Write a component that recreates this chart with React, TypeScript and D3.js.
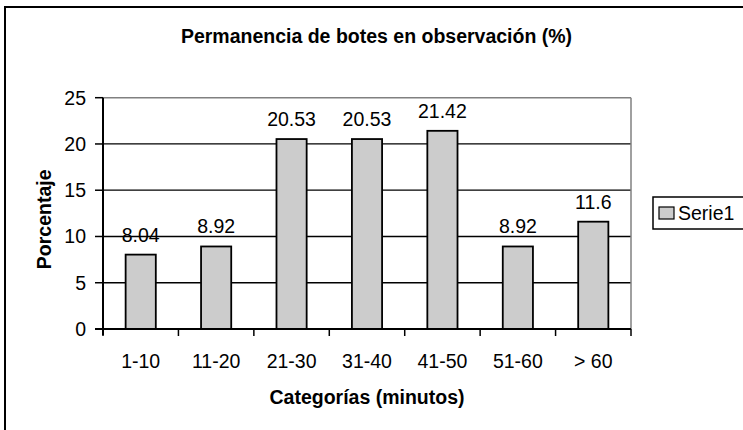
import React from "react";
import * as d3 from "d3";

const categories = ["1-10", "11-20", "21-30", "31-40", "41-50", "51-60", "> 60"];
const values = [8.04, 8.92, 20.53, 20.53, 21.42, 8.92, 11.6];
const valueLabels = ["8.04", "8.92", "20.53", "20.53", "21.42", "8.92", "11.6"];
const yTicks = [0, 5, 10, 15, 20, 25];
const seriesName = "Serie1";
const title = "Permanencia de botes en observación (%)";
const xTitle = "Categorías (minutos)";
const yTitle = "Porcentaje";

const W = 743;
const H = 430;
const plot = { left: 103, right: 631, top: 97.7, bottom: 329 };
const FONT = "'Liberation Sans', Arial, Helvetica, sans-serif";
const BAR_FILL = "#cccccc";

export default function App() {
  const x = d3
    .scaleBand<string>()
    .domain(categories)
    .range([plot.left, plot.right])
    .paddingInner(0)
    .paddingOuter(0);
  const y = d3.scaleLinear().domain([0, 25]).range([plot.bottom, plot.top]);
  const bw = x.bandwidth() / 2.5;
  const boundaries = categories.map((c) => x(c) as number).concat([plot.right]);

  return (
    <svg
      width={W}
      height={H}
      style={{ position: "absolute", left: 0, top: 0, background: "#fff" }}
      fontFamily={FONT}
    >
      <rect x={0} y={0} width={W} height={H} fill="#fff" />
      {/* outer chart border */}
      <rect x={5} y={7} width={W + 10} height={H + 10} fill="none" stroke="#000" strokeWidth={2} />

      {/* title */}
      <text x={376.5} y={43} textAnchor="middle" fontSize={19.5} fontWeight="bold">
        {title}
      </text>

      {/* gridlines */}
      {yTicks
        .filter((t) => t > 0 && t < 25)
        .map((t) => (
          <line key={"g" + t} x1={plot.left} x2={plot.right} y1={y(t)} y2={y(t)} stroke="#000" strokeWidth={1.3} />
        ))}
      {/* plot border top/right gray */}
      <line x1={plot.left} x2={plot.right} y1={y(25)} y2={y(25)} stroke="#808080" strokeWidth={1.5} />
      <line x1={plot.right} x2={plot.right} y1={plot.top} y2={plot.bottom} stroke="#808080" strokeWidth={1.5} />

      {/* bars */}
      {values.map((v, i) => {
        const cx = (x(categories[i]) as number) + x.bandwidth() / 2;
        return (
          <rect
            key={"b" + i}
            x={cx - bw / 2}
            y={y(v)}
            width={bw}
            height={y(0) - y(v)}
            fill={BAR_FILL}
            stroke="#000"
            strokeWidth={1.8}
          />
        );
      })}

      {/* data labels */}
      {values.map((v, i) => {
        const cx = (x(categories[i]) as number) + x.bandwidth() / 2;
        return (
          <text key={"l" + i} x={cx} y={y(v) - 13} textAnchor="middle" fontSize={19.5}>
            {valueLabels[i]}
          </text>
        );
      })}

      {/* y axis */}
      <line x1={plot.left} x2={plot.left} y1={plot.top} y2={plot.bottom + 6} stroke="#000" strokeWidth={2} />
      {yTicks.map((t) => (
        <g key={"yt" + t}>
          <line x1={plot.left - 8} x2={plot.left} y1={y(t)} y2={y(t)} stroke="#000" strokeWidth={1.5} />
          <text x={86} y={y(t) + 7} textAnchor="end" fontSize={19.5}>
            {t}
          </text>
        </g>
      ))}

      {/* x axis */}
      <line x1={plot.left - 8} x2={plot.right} y1={plot.bottom} y2={plot.bottom} stroke="#000" strokeWidth={2} />
      {boundaries.map((b, i) => (
        <line key={"xt" + i} x1={b} x2={b} y1={plot.bottom} y2={plot.bottom + 7} stroke="#000" strokeWidth={1.5} />
      ))}
      {categories.map((c) => (
        <text key={"xl" + c} x={(x(c) as number) + x.bandwidth() / 2} y={368} textAnchor="middle" fontSize={19.5}>
          {c}
        </text>
      ))}

      {/* axis titles */}
      <text x={367} y={404} textAnchor="middle" fontSize={19.5} fontWeight="bold">
        {xTitle}
      </text>
      <text
        transform={`translate(51,${(plot.top + plot.bottom) / 2 + 6}) rotate(-90)`}
        textAnchor="middle"
        fontSize={19.5}
        fontWeight="bold"
      >
        {yTitle}
      </text>

      {/* legend */}
      <rect x={653} y={197} width={100} height={32} fill="#fff" stroke="#000" strokeWidth={1.5} />
      <rect x={659} y={207} width={15} height={12} fill={BAR_FILL} stroke="#000" strokeWidth={1.2} />
      <text x={678} y={220} fontSize={19.5}>
        {seriesName}
      </text>
    </svg>
  );
}
